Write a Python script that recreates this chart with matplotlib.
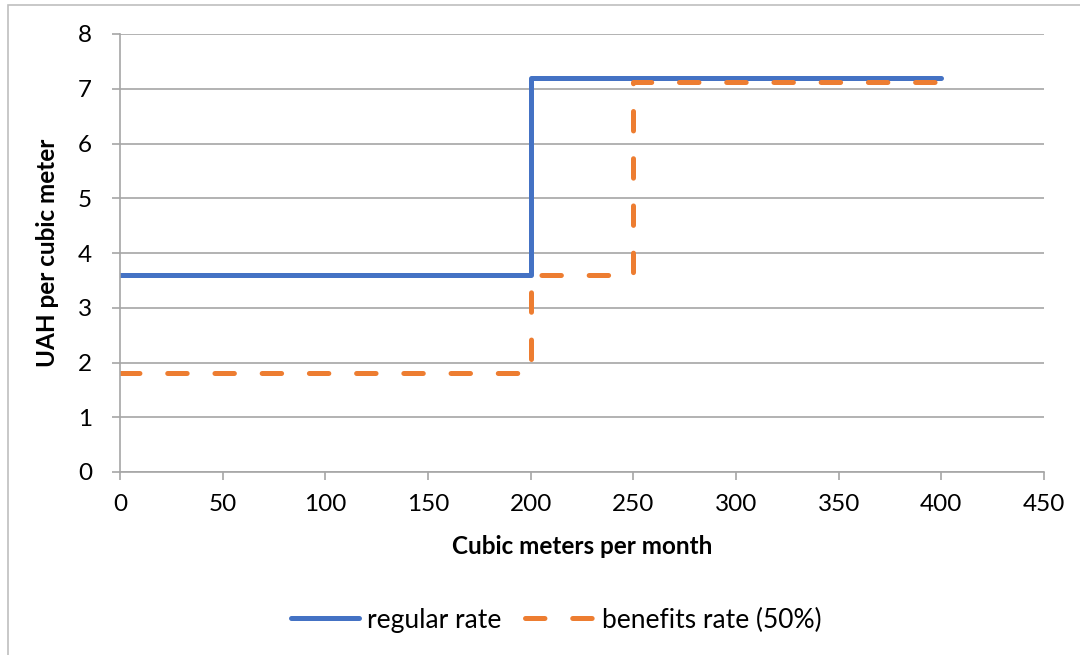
import numpy as np
import matplotlib
matplotlib.use('Agg')
import matplotlib.pyplot as plt
from matplotlib.patches import Rectangle

# step tariffs, UAH per cubic meter
regular_x = [0, 200, 200, 400]
regular_y = [3.6, 3.6, 7.2, 7.2]
benefit_x = [0, 200, 200, 250, 250, 400]
benefit_y = [1.8, 1.8, 3.6, 3.6, 7.13, 7.13]

x_ticks = [0, 50, 100, 150, 200, 250, 300, 350, 400, 450]
y_ticks = [0, 1, 2, 3, 4, 5, 6, 7, 8]

plt.rcParams['font.family'] = ['Lato', 'DejaVu Sans']
plt.rcParams['lines.scale_dashes'] = False

fig = plt.figure(figsize=(10.8, 6.55), dpi=100)
ax = fig.add_axes([120/1080, 1 - 472/655, (1044-120)/1080, (472-34)/655])

# chart frame (cut off at right and bottom)
fig.patches.append(Rectangle((8/1080, -0.1), 1.2, 1 - 5/655 + 0.1, transform=fig.transFigure,
                             fill=False, edgecolor='#bfbfbf', linewidth=1.2))

ax.plot(regular_x, regular_y, color='#4472c4', lw=3.6, solid_capstyle='round',
        solid_joinstyle='round', label='regular rate')
ax.plot(benefit_x, benefit_y, color='#ed7d31', lw=3.6, dashes=(14, 20),
        dash_capstyle='round', dash_joinstyle='round', label='benefits rate (50%)')

ax.set_xlim(0, 450)
ax.set_ylim(0, 8)
ax.set_xticks(x_ticks)
ax.set_yticks(y_ticks)
ax.grid(axis='y', color='#a6a6a6', lw=1.2)
ax.set_axisbelow(True)
for s in ['top', 'right']:
    ax.spines[s].set_visible(False)
for s in ['left', 'bottom']:
    ax.spines[s].set_color('#a6a6a6')
    ax.spines[s].set_linewidth(1.2)
ax.tick_params(colors='#a6a6a6', labelcolor='black', labelsize=17.5, length=6, width=1.2)
ax.tick_params(axis='y', pad=14)
ax.tick_params(axis='x', pad=10)

ax.set_xlabel('Cubic meters per month', fontsize=17.5, fontweight='bold', labelpad=14)
ax.set_ylabel('UAH per cubic meter', fontsize=17.5, fontweight='bold', labelpad=14)

fig.legend(loc='center', bbox_to_anchor=(0.515, 1 - 620/655), ncol=2, frameon=False,
           fontsize=19, handlelength=2.6, columnspacing=0.9, handletextpad=0.3)

fig.savefig('out.png', dpi=100)
